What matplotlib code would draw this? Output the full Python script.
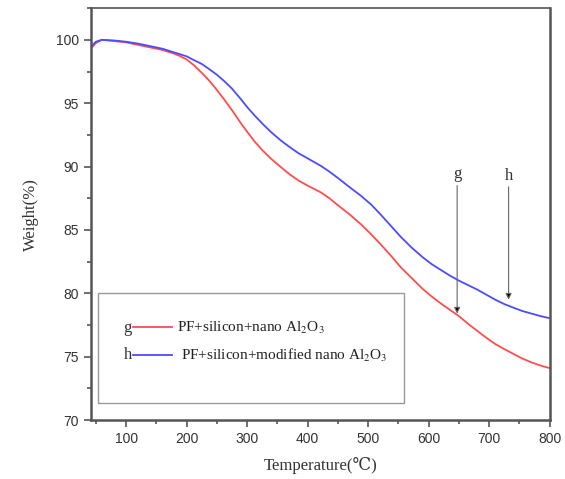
"""TGA weight-loss curves for the two PF/silicon/nano Al2O3 composites."""

import matplotlib

matplotlib.use("Agg")
import matplotlib.pyplot as plt
from matplotlib.patches import Rectangle
from matplotlib.ticker import MultipleLocator

plt.rcParams["mathtext.fontset"] = "stix"

SERIF = ["Liberation Serif", "DejaVu Serif"]
SANS = ["Liberation Sans", "DejaVu Sans"]

temp = [42, 50, 60, 80, 100, 120, 140, 160, 170, 180, 190, 200, 212, 225,
        237, 250, 262, 275, 290, 300, 312, 325, 340, 356, 370, 385, 400, 422,
        436, 450, 470, 488, 505, 520, 537, 554, 572, 590, 605, 620, 635, 650,
        665, 680, 695, 710, 725, 741, 755, 770, 785, 800]

weight_g = [99.3, 99.75, 100.0, 99.9, 99.8, 99.6, 99.4, 99.2, 99.05, 98.9,
            98.7, 98.45, 98.0, 97.4, 96.8, 96.05, 95.3, 94.45, 93.4, 92.75,
            92.0, 91.3, 90.6, 89.95, 89.4, 88.9, 88.5, 87.96, 87.5, 86.95,
            86.2, 85.45, 84.65, 83.9, 83.0, 82.05, 81.2, 80.35, 79.75, 79.2,
            78.7, 78.2, 77.6, 77.05, 76.5, 76.0, 75.6, 75.2, 74.85, 74.55,
            74.3, 74.1]

weight_h = [99.45, 99.85, 100.0, 99.95, 99.85, 99.7, 99.5, 99.3, 99.15, 99.0,
            98.85, 98.7, 98.4, 98.1, 97.7, 97.25, 96.75, 96.15, 95.3, 94.7,
            94.05, 93.4, 92.7, 92.05, 91.55, 91.05, 90.65, 90.05, 89.6, 89.1,
            88.35, 87.7, 87.0, 86.25, 85.35, 84.45, 83.6, 82.85, 82.3, 81.85,
            81.4, 81.0, 80.65, 80.3, 79.9, 79.5, 79.15, 78.85, 78.6, 78.4,
            78.2, 78.04]

labels = [r"PF+silicon+nano Al$_2$O$_3$",
          r"PF+silicon+modified nano Al$_2$O$_3$"]
keys = ["g", "h"]
colors = ["#ff4c4c", "#4c4cff"]

# arrow markers: (x, tip y, tail y)
arrow_g = (647, 78.4, 88.5)
arrow_h = (732, 79.5, 88.4)

fig = plt.figure(figsize=(5.65, 4.79), dpi=100)
ax = fig.add_axes([0.161, 0.123, 0.812, 0.860])

ax.plot(temp, weight_g, color=colors[0], lw=1.3)
ax.plot(temp, weight_h, color=colors[1], lw=1.3)

for key, (x, tip, tail) in zip(keys, [arrow_g, arrow_h]):
    ax.annotate("", xy=(x, tip), xytext=(x, tail),
                arrowprops=dict(arrowstyle="-|>", color="#666666", lw=0.8,
                                mutation_scale=9, shrinkA=0, shrinkB=0,
                                fc="black"))
    ax.text(x, tail + 0.25, key, ha="center", va="bottom", fontsize=12,
            family=SERIF, color="#333333")

# hand-drawn legend box, as in the original plot
ax.add_patch(Rectangle((54, 71.35), 506, 8.65, fill=False, ec="#999999",
                       lw=1.0, zorder=3))
rows = [77.3, 75.1]
for i, y in enumerate(rows):
    ax.text(110, y, keys[i], ha="right", va="center", fontsize=12,
            family=SERIF, color="#333333")
    ax.plot([112, 176], [y + 0.05, y + 0.05], color=colors[i], lw=1.3)
    ax.text(184 + 6 * i, y, labels[i], ha="left", va="center", fontsize=11,
            family=SERIF, color="#222222")

ax.set_xlim(42, 800)
ax.set_ylim(70, 102.5)
ax.xaxis.set_major_locator(MultipleLocator(100))
ax.xaxis.set_minor_locator(MultipleLocator(50))
ax.yaxis.set_major_locator(MultipleLocator(5))
ax.yaxis.set_minor_locator(MultipleLocator(2.5))
ax.set_xticks([100, 200, 300, 400, 500, 600, 700, 800])

for side in ["left", "bottom", "right", "top"]:
    ax.spines[side].set_color("#555555")
    ax.spines[side].set_linewidth(1.8)
ax.spines["top"].set_linewidth(1.2)

ax.tick_params(which="both", direction="out", color="#555555", width=1.2,
               top=False, right=False)
ax.tick_params(which="major", length=5, labelsize=10, labelcolor="#333333")
ax.tick_params(which="minor", length=3)
for lab in ax.get_xticklabels() + ax.get_yticklabels():
    lab.set_family(SANS)

ax.set_xlabel("Temperature(℃)", family=SERIF, fontsize=12, color="#333333",
              labelpad=8)
ax.set_ylabel("Weight(%)", family=SERIF, fontsize=12, color="#333333",
              labelpad=12)

fig.savefig("out.png", dpi=100)
